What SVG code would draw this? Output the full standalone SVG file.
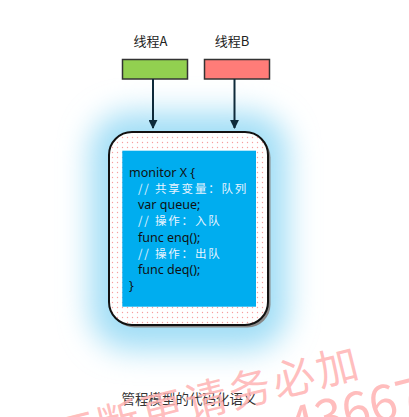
<svg xmlns="http://www.w3.org/2000/svg" width="409" height="417" viewBox="0 0 409 417">
  <defs>
    <style>
      .label { font-family: "Noto Sans CJK SC", "Noto Sans", sans-serif; font-size: 13px; fill: #222; }
      .code { font-family: "Noto Sans", "Noto Sans CJK SC", sans-serif; font-size: 12.5px; fill: #111; }
      .cmt { font-family: "Noto Sans CJK SC", "Noto Sans", sans-serif; font-size: 11.5px; fill: #e8f4ff; letter-spacing: 1.8px; }
      .caption { font-family: "Noto Sans CJK SC", sans-serif; font-size: 13.5px; fill: #333; }
      .thread { stroke: #333; stroke-width: 1.5; }
      .edge { stroke: #0e2a3a; stroke-width: 2; fill: none; }
      .mark { font-family: "Noto Sans CJK SC", sans-serif; fill: #ffb2b2; fill-opacity: 0.85; }
    </style>
    <marker id="arrow" viewBox="0 0 10 10" refX="9" refY="5" markerWidth="4.5" markerHeight="4.5" orient="auto" markerUnits="strokeWidth">
      <path d="M0,0 L10,5 L0,10 Z" fill="#0e2a3a"/>
    </marker>
    <pattern id="dots" width="5" height="5" patternUnits="userSpaceOnUse">
      <rect width="5" height="5" fill="#fff"/>
      <circle cx="2.5" cy="2.5" r="0.7" fill="#f7a0a0"/>
    </pattern>
    <filter id="glow" x="-50%" y="-50%" width="200%" height="200%">
      <feGaussianBlur stdDeviation="15"/>
    </filter>
  </defs>

  <rect width="409" height="417" fill="#fff"/>

  <!-- thread labels and boxes -->
  <g id="threadA">
    <text class="label" x="150.5" y="46" text-anchor="middle">线程A</text>
    <rect class="thread" x="122.5" y="59.5" width="65" height="19.5" fill="#92d050"/>
  </g>
  <g id="threadB">
    <text class="label" x="232" y="46" text-anchor="middle">线程B</text>
    <rect class="thread" x="204.5" y="59.5" width="65" height="19.5" fill="#ff7c78"/>
  </g>

  <!-- monitor X -->
  <g id="monitor">
    <rect x="90" y="112" width="198" height="238" rx="40" fill="#a2def6" filter="url(#glow)"/>
    <rect x="111.5" y="134.5" width="159" height="193" rx="23" fill="#888"/>
    <rect x="109" y="132" width="159" height="193" rx="23" fill="url(#dots)" stroke="#111" stroke-width="2"/>
    <rect x="122.3" y="150.7" width="133.7" height="156" fill="#00adef"/>
    <text class="code" x="129" y="177">monitor X {</text>
    <text class="cmt" x="138" y="193">// 共享变量：队列</text>
    <text class="code" x="138" y="209">var queue;</text>
    <text class="cmt" x="138" y="225">// 操作：入队</text>
    <text class="code" x="138" y="241.5">func enq();</text>
    <text class="cmt" x="138" y="258">// 操作：出队</text>
    <text class="code" x="138" y="274">func deq();</text>
    <text class="code" x="129" y="290">}</text>
  </g>

  <!-- connectors -->
  <g id="connectors">
    <line class="edge" x1="153" y1="79" x2="153" y2="128" marker-end="url(#arrow)"/>
    <line class="edge" x1="234.5" y1="79" x2="234.5" y2="128" marker-end="url(#arrow)"/>
  </g>

  <text class="caption" x="189" y="404" text-anchor="middle">管程模型的代码化语义</text>

  <!-- overlay stamp -->
  <g id="stamp">
    <text class="mark" font-size="42" transform="translate(364,376) rotate(-14)" text-anchor="end" letter-spacing="3">不断更请务必加</text>
    <text class="mark" font-size="50" transform="translate(293,444) rotate(-14)">43667</text>
  </g>
</svg>
